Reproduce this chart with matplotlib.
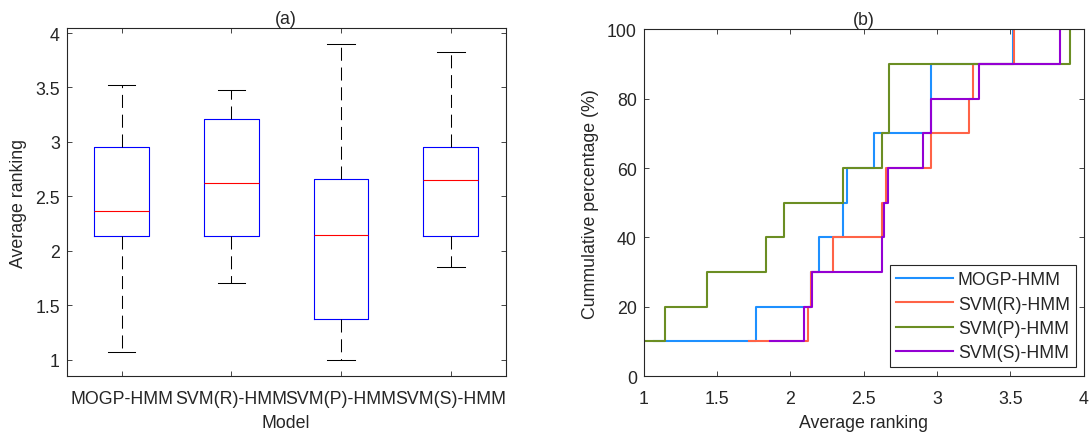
import matplotlib
matplotlib.use("Agg")
import matplotlib.pyplot as plt
from matplotlib.ticker import FuncFormatter, MultipleLocator

plt.rcParams['font.family'] = ['Liberation Sans', 'DejaVu Sans']
FS = 12.8
TXT = '#262626'

# ---- data (a): box plot statistics ----
models = ['MOGP-HMM', 'SVM(R)-HMM', 'SVM(P)-HMM', 'SVM(S)-HMM']
box_med = [2.364, 2.627, 2.150, 2.651]
box_q1 = [2.141, 2.141, 1.379, 2.141]
box_q3 = [2.951, 3.211, 2.661, 2.951]
box_lo = [1.070, 1.709, 1.000, 1.853]
box_hi = [3.520, 3.474, 3.902, 3.829]

# ---- data (b): sorted average rankings (empirical CDF) ----
cum_pct = [10, 20, 30, 40, 50, 60, 70, 80, 90, 100]
rank_mogp = [1.070, 1.764, 2.140, 2.196, 2.362, 2.385, 2.571, 2.957, 2.957, 3.520]
rank_svmr = [1.718, 2.123, 2.140, 2.289, 2.623, 2.651, 2.957, 3.219, 3.244, 3.528]
rank_svmp = [1.000, 1.145, 1.430, 1.834, 1.955, 2.362, 2.623, 2.673, 2.673, 3.910]
rank_svms = [1.862, 2.093, 2.146, 2.623, 2.639, 2.669, 2.907, 2.957, 3.289, 3.840]
series_colors = ['#1E90FF', '#FF6347', '#6B8E23', '#9400D3']

fig = plt.figure(figsize=(10.89, 4.35), dpi=100)
ax1 = fig.add_axes([0.06125, 0.1326, 0.4031, 0.8])
ax2 = fig.add_axes([0.5911, 0.1333, 0.4039, 0.7966])


def style_axes(ax):
    for s in ax.spines.values():
        s.set_color('#262626')
        s.set_linewidth(0.8)
    ax.tick_params(direction='in', top=True, right=True, length=3.6, width=0.6,
                   color='#262626', labelsize=FS, labelcolor=TXT)


# ---- (a) box plot ----
stats = []
for i, m in enumerate(models):
    stats.append(dict(label=m, med=box_med[i], q1=box_q1[i], q3=box_q3[i],
                      whislo=box_lo[i], whishi=box_hi[i], fliers=[]))
ax1.bxp(stats, positions=[1, 2, 3, 4], widths=0.5, capwidths=0.25,
        showfliers=False,
        boxprops=dict(color='#0000FF', linewidth=0.8),
        medianprops=dict(color='#FF0000', linewidth=0.8),
        whiskerprops=dict(color='black', linewidth=0.75, linestyle=(0, (12.5, 6.5))),
        capprops=dict(color='black', linewidth=0.75))
ax1.set_xlim(0.5, 4.5)
ax1.set_ylim(0.85, 4.043)
ax1.yaxis.set_major_locator(MultipleLocator(0.5))
ax1.yaxis.set_major_formatter(FuncFormatter(lambda v, p: '%g' % v))
style_axes(ax1)
ax1.tick_params(axis='x', pad=10)
ax1.tick_params(axis='y', pad=5)
ax1.set_xticks([1, 2, 3, 4])
ax1.set_xticklabels(models)
ax1.set_xlabel('Model', fontsize=FS, color=TXT, labelpad=5)
ax1.set_ylabel('Average ranking', fontsize=FS, color=TXT, labelpad=6)
ax1.set_title('(a)', fontsize=FS, color=TXT, pad=4)

# ---- (b) cumulative step plot ----
names = models
for ranks, c, n in zip([rank_mogp, rank_svmr, rank_svmp, rank_svms], series_colors, names):
    ax2.step(ranks, cum_pct, where='post', color=c, linewidth=1.5, label=n)
ax2.set_xlim(1, 4)
ax2.set_ylim(0, 100)
ax2.xaxis.set_major_locator(MultipleLocator(0.5))
ax2.yaxis.set_major_locator(MultipleLocator(20))
ax2.xaxis.set_major_formatter(FuncFormatter(lambda v, p: '%g' % v))
style_axes(ax2)
ax2.tick_params(axis='x', pad=10)
ax2.tick_params(axis='y', pad=5)
ax2.set_xlabel('Average ranking', fontsize=FS, color=TXT, labelpad=5)
ax2.set_ylabel('Cummulative percentage (%)', fontsize=FS, color=TXT, labelpad=6)
ax2.set_title('(b)', fontsize=FS, color=TXT, pad=4)
leg = ax2.legend(loc='lower right', bbox_to_anchor=(0.9823, 0.0251), fontsize=FS,
                 frameon=True, fancybox=False, framealpha=1, edgecolor='#262626',
                 handlelength=3.2, handletextpad=0.3, labelspacing=0.42,
                 borderpad=0.33, borderaxespad=0)
leg.get_frame().set_linewidth(0.8)
for t in leg.get_texts():
    t.set_color(TXT)

fig.savefig('out.png', dpi=100)
